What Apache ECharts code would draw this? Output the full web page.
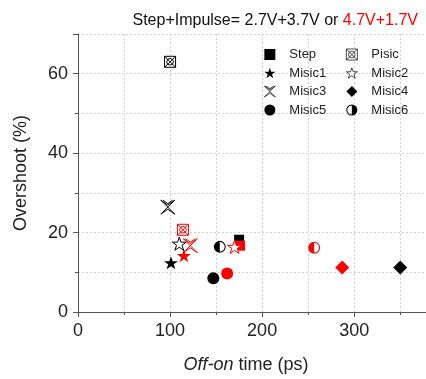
<!DOCTYPE html>
<html><head><meta charset="utf-8">
<script src="https://cdn.jsdelivr.net/npm/echarts@6/dist/echarts.min.js"></script>
<style>html,body{margin:0;padding:0;background:#fff}#c{width:426px;height:379px}</style>
</head><body><div id="c"></div>
<script>
// Data
const categories = ['Step','Pisic','Misic1','Misic2','Misic3','Misic4','Misic5','Misic6'];
const blackX = [175, 100, 101, 110, 97.5, 350, 147, 154];
const blackY = [18.2, 63.0, 12.4, 17.2, 26.4, 11.2, 8.5, 16.4];
const redX   = [176, 114, 115, 170, 122, 287, 162, 256.5];
const redY   = [16.7, 20.7, 14.2, 16.4, 16.7, 11.2, 9.7, 16.2];
const xTicks = [0, 100, 200, 300];
const yTicks = [0, 20, 40, 60];

const STAR = 'path://M50,0 L61.8,35.1 L98.9,35.1 L69.1,56.7 L80.9,91.9 L50,70.3 L19.1,91.9 L30.9,56.7 L1.1,35.1 L38.2,35.1 Z';
const PISIC = 'path://M0,0 H20 V20 H0 Z M0,0 L20,20 M20,0 L0,20 M16,10 A6,6 0 1,1 4,10 A6,6 0 1,1 16,10 Z';
const MISIC3 = 'path://M0,0 L20,20 M20,0 L0,20 M0,0 L10,7 L20,0 M0,20 L10,13 L20,20 M3,0 L10,5 L17,0';
const HALF_L = 'path://M10,0 A10,10 0 1,1 10,20 A10,10 0 1,1 10,0 Z M10,1.8 A8.2,8.2 0 1,0 10,18.2 A8.2,8.2 0 1,0 10,1.8 Z M10,20 A10,10 0 0,1 10,0 Z';
const HALF_R = 'path://M10,0 A10,10 0 1,1 10,20 A10,10 0 1,1 10,0 Z M10,1.8 A8.2,8.2 0 1,0 10,18.2 A8.2,8.2 0 1,0 10,1.8 Z M10,0 A10,10 0 0,1 10,20 Z';

const symbolDefs = {
  Step:   {symbol: 'rect', size: 10, hollow: null},
  Pisic:  {symbol: PISIC, size: 11, hollow: '#fff'},
  Misic1: {symbol: STAR, size: 14, hollow: null},
  Misic2: {symbol: STAR, size: 14, hollow: '#fff'},
  Misic3: {symbol: MISIC3, size: 14, hollow: 'rgba(0,0,0,0)'},
  Misic4: {symbol: 'diamond', size: 14, hollow: null},
  Misic5: {symbol: 'circle', size: 12, hollow: null},
  Misic6: {symbol: HALF_L, size: 12, hollow: null}
};

function styleFor(def, col) {
  if (def.hollow) return {color: def.hollow, borderColor: col, borderWidth: 1, opacity: 1};
  return {color: col, borderWidth: 0, opacity: 1};
}

const series = categories.map((name, i) => {
  const def = symbolDefs[name];
  return {
    name, type: 'scatter', symbol: def.symbol, symbolSize: def.size, symbolKeepAspect: true,
    itemStyle: styleFor(def, '#000'),
    emphasis: {disabled: true},
    data: [
      {value: [blackX[i], blackY[i]], itemStyle: styleFor(def, '#000')},
      {value: [redX[i], redY[i]], itemStyle: styleFor(def, '#ff0000')}
    ]
  };
});

const FF = 'Liberation Sans, Arial, sans-serif';
const legendFont = {fontFamily: FF, fontSize: 13, color: '#222', padding: [0, 0, 0, 9]};
function legendItems(names) {
  return names.map(n => n === 'Misic6' ? {name: n, icon: HALF_R} : {name: n});
}
const axisFont = {fontFamily: FF, fontSize: 18, color: '#222'};
const gridLine = {show: true, lineStyle: {color: '#d2d2d2', type: [2, 2], width: 1}};

const chart = echarts.init(document.getElementById('c'), null, {renderer: 'canvas'});
chart.setOption({
  animation: false,
  backgroundColor: '#fff',
  title: {
    right: 3, top: 8,
    text: '{k|Step+Impulse= 2.7V+3.7V or }{r|4.7V+1.7V}',
    textStyle: {
      fontWeight: 'normal',
      rich: {
        k: {fontFamily: FF, fontSize: 16, fontWeight: 'normal', color: '#111'},
        r: {fontFamily: FF, fontSize: 16, fontWeight: 'normal', color: '#ff0000'}
      }
    }
  },
  legend: [
    {orient: 'vertical', left: 259, top: 43, itemWidth: 11, itemHeight: 11, itemGap: 5.5,
     itemStyle: {borderWidth: 0.7},
     selectedMode: false, textStyle: legendFont, data: legendItems(['Step','Misic1','Misic3','Misic5'])},
    {orient: 'vertical', left: 341, top: 43, itemWidth: 11, itemHeight: 11, itemGap: 5.5,
     itemStyle: {borderWidth: 0.7},
     selectedMode: false, textStyle: legendFont, data: legendItems(['Pisic','Misic2','Misic4','Misic6'])}
  ],
  grid: {left: 78, top: 34, right: 0, bottom: 63, containLabel: false},
  xAxis: [{
    type: 'value', min: 0, max: 378, interval: 100, position: 'bottom',
    name: '{i|Off-on}{n| time (ps)}', nameLocation: 'middle', nameGap: 44,
    nameTextStyle: {padding: [0, 12, 0, 0], rich: {
      i: {fontFamily: FF, fontSize: 18, fontStyle: 'italic', color: '#222'},
      n: {fontFamily: FF, fontSize: 18, color: '#222'}}},
    axisLine: {show: true, onZero: false, lineStyle: {color: '#555', width: 1}},
    axisTick: {show: true, inside: false, length: 5, lineStyle: {color: '#555'}},
    minorTick: {show: true, splitNumber: 2, length: 3, lineStyle: {color: '#555'}},
    axisLabel: Object.assign({margin: 10, showMaxLabel: false,
      formatter: v => xTicks.includes(v) ? String(v) : ''}, axisFont),
    splitLine: gridLine,
    minorSplitLine: gridLine
  }, {
    type: 'value', min: 0, max: 378, position: 'top',
    axisLine: {show: true, lineStyle: {color: '#555', width: 1}},
    axisTick: {show: false}, axisLabel: {show: false}, splitLine: {show: false}
  }],
  yAxis: {
    type: 'value', min: 0, max: 70, interval: 20,
    name: 'Overshoot (%)', nameLocation: 'middle', nameGap: 48,
    nameTextStyle: {fontFamily: FF, fontSize: 18, color: '#222'},
    axisLine: {show: true, onZero: false, lineStyle: {color: '#555', width: 1}},
    axisTick: {show: true, inside: false, length: 5, lineStyle: {color: '#555'}},
    minorTick: {show: true, splitNumber: 2, length: 3, lineStyle: {color: '#555'}},
    axisLabel: Object.assign({margin: 10, showMaxLabel: false,
      formatter: v => yTicks.includes(v) ? String(v) : ''}, axisFont),
    splitLine: gridLine,
    minorSplitLine: gridLine
  },
  series
});
</script></body></html>
